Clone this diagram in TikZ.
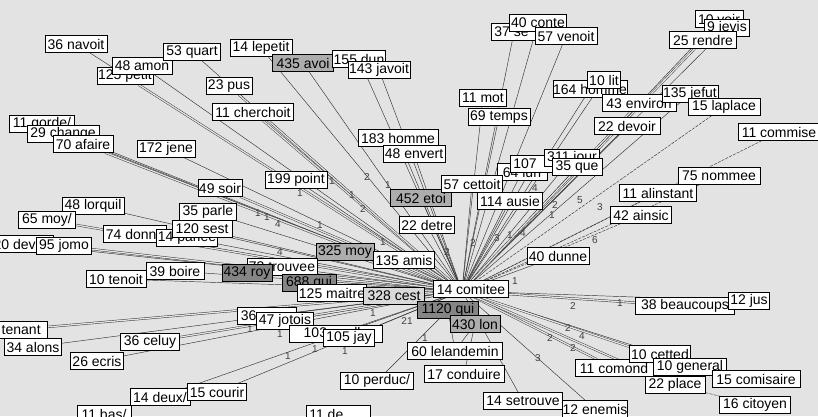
\documentclass[tikz,border=0pt]{standalone}
\usepackage{fontspec}
\setmainfont{Liberation Sans}
\usetikzlibrary{backgrounds}
\begin{document}
\begin{tikzpicture}[x=1pt,y=-1pt,
 box/.style={draw=black, line width=0.7pt, fill=white, inner sep=0pt, minimum height=16.5pt, font=\fontsize{14}{14}\selectfont},
 g0/.style={box, fill=black!15},
 g1/.style={box, fill=black!32},
 g2/.style={box, fill=black!48},
 link/.style={draw=black!80, line width=0.45pt},
 dlink/.style={link, dash pattern=on 3pt off 1.2pt},
 twin/.style={link, double=black!11, double distance=1.3pt},
 num/.style={font=\fontsize{10}{10}\selectfont, text=black!75, inner sep=0pt}]
\useasboundingbox (0,0) rectangle (818,416);
\coordinate (hub) at (462,291);

% nodes (later ones lie on top)
\node[box, minimum width=62] (n36navoit) at (76,44) {36 navoit};
\node[box, minimum width=56] (n125petit) at (125,76) {125 petit};
\node[box, minimum width=60] (n48amon) at (142,66) {48 amon};
\node[box, minimum width=57] (n53quart) at (192,52) {53 quart};
\node[box, minimum width=62] (n14lepetit) at (261,48) {14 lepetit};
\node[g1, minimum width=61] (n435avoi) at (303,63) {435 avoi};
\node[box, minimum width=53] (n155dun) at (359,59) {155 dun};
\node[box, minimum width=62] (n143javoit) at (379,70) {143 javoit};
\node[box, minimum width=46] (n23pus) at (229,86) {23 pus};
\node[box, minimum width=81] (n11cherchoit) at (253,112) {11 cherchoit};
\node[box, minimum width=65] (n11gorde) at (42,124) {11 gorde/};
\node[box, minimum width=72] (n29change) at (63,134) {29 change};
\node[box, minimum width=60] (n70afaire) at (83,144) {70 afaire};
\node[box, minimum width=58] (n172jene) at (166,149) {172 jene};
\node[box, minimum width=80] (n183homme) at (398,138) {183 homme};
\node[box, minimum width=62] (n48envert) at (414,154) {48 envert};
\node[box, minimum width=62] (n199point) at (296,180) {199 point};
\node[box, minimum width=44] (n49soir) at (220,188) {49 soir};
\node[box, minimum width=62] (n48lorquil) at (93,206) {48 lorquil};
\node[box, minimum width=57] (n35parle) at (208,212) {35 parle};
\node[box, minimum width=57] (n65moy) at (47,220) {65 moy/};
\node[box, minimum width=63] (n74donne) at (135,234) {74 donne};
\node[box, minimum width=61] (n14parlee) at (187,238) {14 parlee};
\node[box, minimum width=60] (n120sest) at (202,229) {120 sest};
\node[box, minimum width=62] (n20de) at (22,244) {20 devoit};
\node[box, minimum width=55] (n95jomo) at (64,246) {95 jomo};
\node[g1, minimum width=61] (n452etoi) at (421,198) {452 etoi};
\node[box, minimum width=55] (n22detre) at (427,225) {22 detre};
\node[box, minimum width=50] (n64lun) at (522,172) {64 lun};
\node[box, minimum width=48] (n107) at (534,164) {\makebox[46pt][l]{\,107}};
\node[box, minimum width=55] (n311jour) at (572,158) {311 jour};
\node[box, minimum width=50] (n35que) at (577,167) {35 que};
\node[box, minimum width=61] (n57cettoit) at (472,184) {57 cettoit};
\node[box, minimum width=65] (n114ausie) at (510,201) {114 ausie};
\node[box, minimum width=46] (n37se) at (514,32) {\makebox[44pt][l]{\,37 se}};
\node[box, minimum width=57] (n40conte) at (538,23) {40 conte};
\node[box, minimum width=62] (n57venoit) at (566,36) {57 venoit};
\node[box, minimum width=47] (n11mot) at (483,98) {11 mot};
\node[box, minimum width=62] (n69temps) at (499,117) {69 temps};
\node[box, minimum width=58] (n164homme) at (590,89) {164 homme};
\node[box, minimum width=33] (n10lit) at (604,80) {10 lit};
\node[box, minimum width=74] (n43environ) at (639,103) {43 environ};
\node[box, minimum width=66] (n22devoir) at (627,126) {22 devoir};
\node[box, minimum width=48] (n10voir) at (719,19) {10 voir};
\node[box, minimum width=45] (n9jevis) at (727,28) {9 jevis};
\node[box, minimum width=67] (n25rendre) at (703,40) {25 rendre};
\node[box, minimum width=56] (n135jefut) at (690,94) {135 jefut};
\node[box, minimum width=72] (n15laplace) at (724,107) {15 laplace};
\node[box, minimum width=82] (n11commise) at (779,132) {11 commise};
\node[box, minimum width=82] (n75nommee) at (719,176) {75 nommee};
\node[box, minimum width=77] (n11alinstant) at (658,193) {11 alinstant};
\node[box, minimum width=61] (n42ainsic) at (641,215) {42 ainsic};
\node[box, minimum width=62] (n40dunne) at (558,256) {40 dunne};
\node[g1, minimum width=58] (n325moy) at (345,252) {325 moy};
\node[box, minimum width=61] (n135amis) at (404,260) {135 amis};
\node[box, minimum width=58] (n39boire) at (175,271) {39 boire};
\node[box, minimum width=60] (n10tenoit) at (116,279) {10 tenoit};
\node[box, minimum width=70] (n73trouvee) at (282,267) {73 trouvee};
\node[g2, minimum width=50] (n434roy) at (247,273) {434 roy};
\node[g2, minimum width=54] (n688qui) at (309,283) {688 qui};
\node[box, minimum width=69] (n125maitre) at (332,293) {125 maitre};
\node[g0, minimum width=61] (n328cest) at (394,296) {328 cest};
\node[box, minimum width=75] (n14comitee) at (471,289) {14 comitee};
\node[g2, minimum width=61] (n1120qui) at (448,310) {1120 qui};
\node[g1, minimum width=50] (n430lon) at (475,324) {430 lon};
\node[box, minimum width=99] (n38beaucoups) at (685,306) {38 beaucoups};
\node[box, minimum width=41] (n12jus) at (749,301) {12 jus};
\node[box, minimum width=70] (ntenant) at (12,330) {11 tenant};
\node[box, minimum width=57] (n34alons) at (33,347) {34 alons};
\node[box, minimum width=59] (n36celuy) at (150,342) {36 celuy};
\node[box, minimum width=53] (n26ecris) at (97,361) {26 ecris};
\node[box, minimum width=59] (n36x) at (267,316) {\makebox[57pt][l]{\,36}};
\node[box, minimum width=57] (n47jotois) at (285,321) {47 jotois};
\node[box, minimum width=93] (n103) at (336,334) {103 quelle};
\node[box, minimum width=51] (n105jay) at (349,338) {105 jay};
\node[box, minimum width=95] (n60lelandemin) at (455,351) {60 lelandemin};
\node[box, minimum width=73] (n10perduc) at (377,381) {10 perduc/};
\node[box, minimum width=80] (n17conduire) at (464,374) {17 conduire};
\node[box, minimum width=79] (n14setrouve) at (523,401) {14 setrouve};
\node[box, minimum width=56] (n12enemis) at (595,409) {12 enemis};
\node[box, minimum width=78] (n11comond) at (614,368) {11 comond};
\node[box, minimum width=61] (n10cetted) at (660,354) {10 cetted};
\node[box, minimum width=73] (n10general) at (690,367) {10 general};
\node[box, minimum width=60] (n22place) at (675,385) {22 place};
\node[box, minimum width=88] (n15comisaire) at (756,379) {15 comisaire};
\node[box, minimum width=71] (n16citoyen) at (755,405) {16 citoyen};
\node[box, minimum width=60] (n14deux) at (160,397) {14 deux/};
\node[box, minimum width=59] (n15courir) at (217,392) {15 courir};
\node[box, minimum width=54] (n11bas) at (104,414) {11 bas/};
\node[box, minimum width=64] (n11de) at (338,414) {\makebox[62pt][l]{\,11 de}};

% edge weights
\foreach \t/\px/\py in {1/332/181, 2/367/177, 1/388/185, 1/352/195, 2/363/209, 1/300/193,
  1/258/213, 1/267/217, 4/278/224, 1/320/225, 1/383/242, 4/280/252,
  2/473/243, 3/497/238, 1/510/235, 4/523/233, 2/555/205, 1/552/215, 5/580/200,
  3/600/207, 6/595/240, 4/535/188, 2/447/252, 1/515/281, 2/573/306, 2/568/328,
  4/582/336, 2/550/338, 2/573/348, 3/538/358, 21/407/321, 1/425/338, 1/620/303,
  1/373/313, 1/250/329, 1/280/334, 1/288/356, 1/315/349, 1/345/351}
  \node[num] at (\px,\py) {\t};

% connectors, below the nodes
\begin{scope}[on background layer]
\fill[black!11] (0,0) rectangle (818,416);
\foreach \n in {n36navoit,n48amon,n53quart,n14lepetit,n435avoi,n155dun,n143javoit,
  n11gorde,n29change,n172jene,n183homme,n48envert,n199point,n48lorquil,n35parle,
  n74donne,n14parlee,n120sest,n20de,n452etoi,n22detre,n64lun,n107,n311jour,n35que,
  n57cettoit,n114ausie,n37se,n40conte,n57venoit,n11mot,n69temps,n164homme,n10lit,
  n22devoir,n10voir,n9jevis,n135jefut,n40dunne,n325moy,n135amis,n39boire,n10tenoit,
  n73trouvee,n434roy,n688qui,n125maitre,n328cest,n12jus,n34alons,n26ecris,
  n36x,n47jotois,n103,n105jay,n14deux,n15courir,n14setrouve,n12enemis,n10cetted}
  \draw[link] (\n) -- (hub);
\foreach \n in {n125petit,n70afaire,n11cherchoit,n23pus,n49soir,n65moy,n95jomo,
  ntenant,n36celuy,n25rendre,n43environ,n11comond,n10general,n22place,n38beaucoups}
  \draw[twin] (\n) -- (hub);
\foreach \n in {n15laplace,n11commise,n75nommee,n11alinstant,n42ainsic}
  \draw[dlink] (\n) -- (hub);
\draw[link] (n10perduc) -- (n1120qui);
\draw[link] (n60lelandemin) -- (n1120qui);
\draw[link] (n60lelandemin) -- (n430lon);
\draw[link] (n17conduire) -- (n430lon);
\draw[dlink] (n15comisaire) -- (n10general);
\draw[dlink] (n16citoyen) -- (n22place);
\end{scope}
\end{tikzpicture}
\end{document}
